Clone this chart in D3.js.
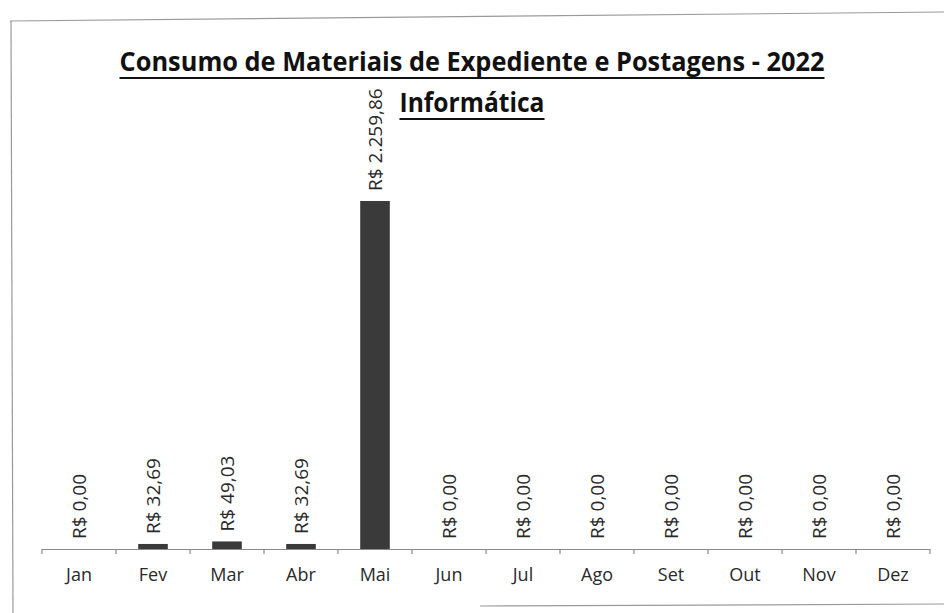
<!DOCTYPE html>
<html>
<head>
<meta charset="utf-8">
<script src="https://cdn.jsdelivr.net/npm/d3@7"></script>
<style>
  html, body { margin: 0; padding: 0; background: #fff; }
  svg { display: block; }
</style>
</head>
<body>
<svg id="chart" width="944" height="613"></svg>
<script>
// monthly values (R$)
const months = ['Jan', 'Fev', 'Mar', 'Abr', 'Mai', 'Jun', 'Jul', 'Ago', 'Set', 'Out', 'Nov', 'Dez'];
const values = [0, 32.69, 49.03, 32.69, 2259.86, 0, 0, 0, 0, 0, 0, 0];
const valueLabels = ['R$ 0,00', 'R$ 32,69', 'R$ 49,03', 'R$ 32,69', 'R$ 2.259,86', 'R$ 0,00',
                     'R$ 0,00', 'R$ 0,00', 'R$ 0,00', 'R$ 0,00', 'R$ 0,00', 'R$ 0,00'];
const titleText = 'Consumo de Materiais de Expediente e Postagens - 2022';
const subtitleText = 'Informática';

const svg = d3.select('#chart');
const W = 944, H = 613;
const baseFont = "'Open Sans', 'DejaVu Sans', sans-serif";

// scanned page frame
const frame = svg.append('g').attr('stroke', '#9a9a9a').attr('stroke-width', 1.2).attr('fill', 'none');
frame.append('line').attr('x1', 10).attr('y1', 21).attr('x2', W).attr('y2', 12);
frame.append('line').attr('x1', 11).attr('y1', 21).attr('x2', 13).attr('y2', H);
frame.append('line').attr('x1', 480).attr('y1', 606).attr('x2', W).attr('y2', 604);

// plot geometry
const left = 42, right = 930, baseY = 549;

const x = d3.scaleBand()
    .domain(months)
    .range([left, right])
    .paddingInner(0.6)
    .paddingOuter(0.3);

const y = d3.scaleLinear()
    .domain([0, 2500])
    .range([baseY, baseY - 385]);

// bars
svg.append('g').selectAll('rect')
    .data(months)
    .join('rect')
    .attr('x', d => x(d))
    .attr('width', x.bandwidth())
    .attr('y', (d, i) => y(values[i]))
    .attr('height', (d, i) => baseY - y(values[i]))
    .attr('fill', '#3a3a3a');

// category axis, ticks at band edges
const edgeScale = d3.scaleLinear().domain([0, months.length]).range([left, right]);
const axis = svg.append('g').attr('stroke', '#8a8a8a').attr('stroke-width', 1.2);
axis.append('line').attr('x1', left).attr('x2', right).attr('y1', baseY + 0.5).attr('y2', baseY + 0.5);
axis.selectAll('.tick')
    .data(d3.range(months.length + 1))
    .join('line')
    .attr('class', 'tick')
    .attr('x1', d => edgeScale(d)).attr('x2', d => edgeScale(d))
    .attr('y1', baseY).attr('y2', baseY + 5);

svg.append('g').selectAll('text')
    .data(months)
    .join('text')
    .attr('x', d => x(d) + x.bandwidth() / 2)
    .attr('y', 581)
    .attr('text-anchor', 'middle')
    .attr('font-family', baseFont)
    .attr('font-size', 18)
    .attr('fill', '#2a2a2a')
    .text(d => d);

// rotated value labels
svg.append('g').selectAll('text')
    .data(months)
    .join('text')
    .attr('transform', (d, i) => `translate(${x(d) + x.bandwidth() / 2},${y(values[i]) - 10}) rotate(-90)`)
    .attr('dy', '0.36em')
    .attr('text-anchor', 'start')
    .attr('font-family', baseFont)
    .attr('font-size', 19)
    .attr('fill', '#2a2a2a')
    .text((d, i) => valueLabels[i]);

// titles: bold, squeezed horizontally to the original width, underlined
function underlinedTitle(text, cy, targetWidth) {
    const g = svg.append('g');
    const t = g.append('text')
        .attr('x', 0)
        .attr('y', 0)
        .attr('text-anchor', 'middle')
        .attr('font-family', baseFont)
        .attr('font-weight', 'bold')
        .attr('font-size', 27)
        .attr('fill', '#111')
        .text(text);
    const w = t.node().getComputedTextLength();
    const k = Math.min(1, targetWidth / w);
    g.attr('transform', `translate(472,${cy}) scale(${k},1)`);
    g.append('line')
        .attr('x1', -w / 2).attr('x2', w / 2)
        .attr('y1', 7).attr('y2', 7)
        .attr('stroke', '#111').attr('stroke-width', 2.2);
}
underlinedTitle(titleText, 71, 705);
underlinedTitle(subtitleText, 112, 145);
</script>
</body>
</html>
